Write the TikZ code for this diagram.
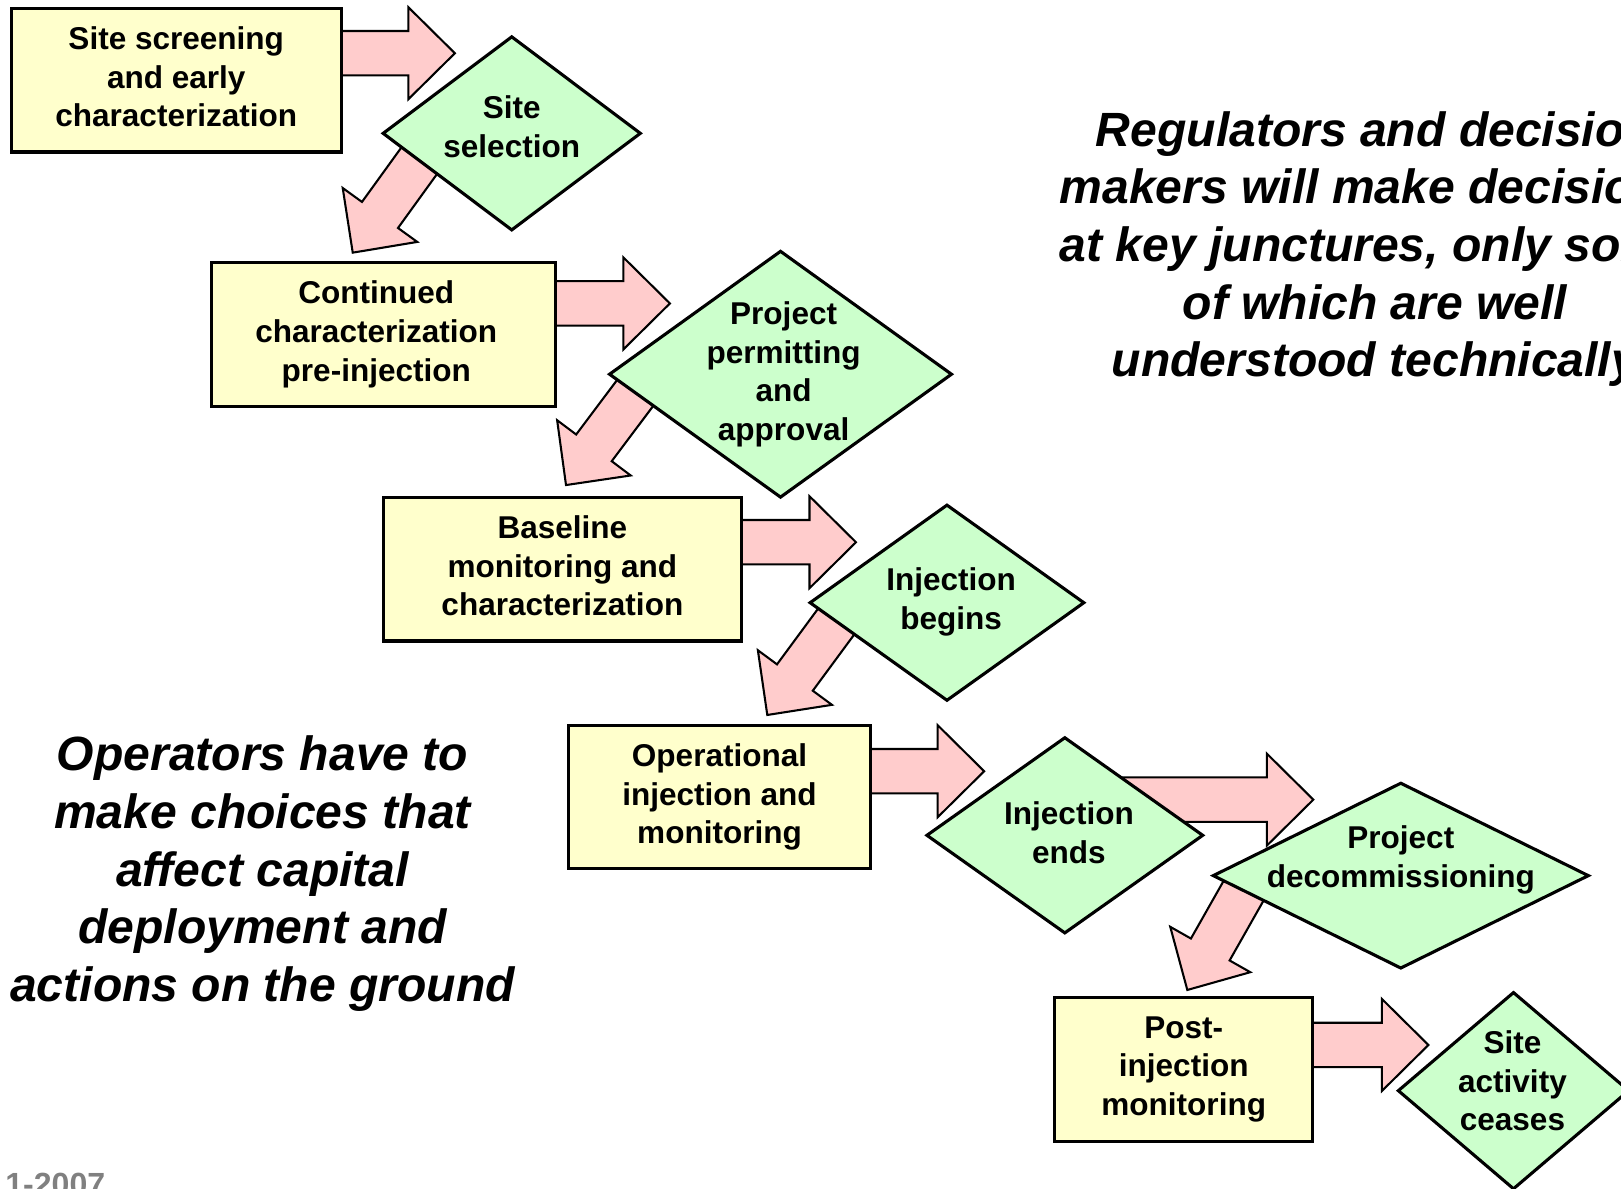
\documentclass[tikz,border=0pt]{standalone}
\usepackage{fontspec}
\setmainfont{Liberation Sans}
\usetikzlibrary{shapes.geometric,calc,backgrounds}
\definecolor{boxyellow}{HTML}{FFFFCC}
\definecolor{diagreen}{HTML}{CCFFCC}
\definecolor{arrpink}{HTML}{FFCCCC}
\definecolor{yeargray}{HTML}{808080}
\newcommand\blockarrow[2]{%
  \coordinate (hb) at ($(#2)!45pt!(#1)$);
  \draw[blockarr] ($(#1)!21.5pt!90:(#2)$) -- ($(hb)!21.5pt!90:(#2)$) -- ($(hb)!44.5pt!90:(#2)$) -- (#2)
    -- ($(hb)!44.5pt!-90:(#2)$) -- ($(hb)!21.5pt!-90:(#2)$) -- ($(#1)!21.5pt!-90:(#2)$) -- cycle;}
\begin{document}
\begin{tikzpicture}[x=1pt,y=-1pt,
  procbox/.style={draw=black,line width=3pt,fill=boxyellow,inner sep=0pt,align=center,
    font=\fontsize{30.5}{37.5}\selectfont\bfseries},
  decdia/.style={diamond,draw=black,line width=3pt,fill=diagreen,inner sep=0pt},
  diatext/.style={align=center,font=\fontsize{30.5}{37.5}\selectfont\bfseries,inner sep=0pt},
  bigtext/.style={align=center,font=\fontsize{46.5}{55.7}\selectfont\bfseries\itshape,inner sep=0pt},
  blockarr/.style={draw=black,line width=2pt,fill=arrpink,line join=miter}]
\useasboundingbox (0,0) rectangle (1568,1150);
\clip (0,0) rectangle (1568,1150);
% process boxes
\node[procbox,minimum width=319pt,minimum height=139pt] (b1) at (170.5,77.5) {Site screening\\and early\\characterization\vphantom{g}};
\node[procbox,minimum width=332pt,minimum height=139pt] (b2) at (371,323.5) {};
\node[diatext] (tb2) at (364,323.5) {Continued\\characterization\\pre-injection};
\node[procbox,minimum width=346pt,minimum height=139pt] (b3) at (544,550.5) {Baseline\\monitoring and\\characterization\vphantom{g}};
\node[procbox,minimum width=292pt,minimum height=138pt] (b4) at (696,771) {Operational\\injection and\\monitoring};
\node[procbox,minimum width=250pt,minimum height=139pt] (b5) at (1145,1034.5) {Post-\\injection\\monitoring};
% decision diamonds
\node[decdia,minimum width=250pt,minimum height=188pt] (d1) at (495,129) {};
\node[diatext] (t1) at (495,122.5) {Site\\selection};
\node[decdia,minimum width=332pt,minimum height=239pt] (d2) at (755,362) {};
\node[diatext] (t2) at (758,362) {Project\\permitting\\and\\approval};
\node[decdia,minimum width=266pt,minimum height=190pt] (d3) at (916,583) {};
\node[diatext] (t3) at (920,582.5) {Injection\\begins};
\node[decdia,minimum width=268pt,minimum height=190pt] (d4) at (1030,808) {};
\node[diatext] (t4) at (1034,805.5) {Injection\\ends};
\node[decdia,minimum width=364pt,minimum height=180pt] (d5) at (1355,847) {};
\node[diatext] (t5) at (1355,831.5) {Project\\decommissioning};
\node[decdia,minimum width=224pt,minimum height=191pt] (d6) at (1464,1055) {};
\node[diatext] (t6) at (1463,1045.5) {Site\\activity\\ceases};
% large captions
\node[bigtext] (ops) at (254,845) {Operators have to\\make choices that\\affect capital\\deployment and\\actions on the ground};
\node[bigtext] (regs) at (1330,241) {Regulators and decision\\makers will make decisions\\at key junctures, only some\\of which are well\\understood technically};
\node[anchor=base west,inner sep=0pt,font=\fontsize{31}{33}\selectfont\bfseries,text=yeargray] (yr) at (5,1156) {1-2007};
% block arrows behind
\begin{pgfonlayer}{background}
\coordinate (a1s) at (300,51.5);   \coordinate (a1t) at (440,51.5);
\coordinate (a2s) at (417.2,139.3); \coordinate (a2t) at (341.2,244.4);
\coordinate (a3s) at (510,293.5);  \coordinate (a3t) at (648,293.5);
\coordinate (a4s) at (625.5,365.3); \coordinate (a4t) at (547.5,469.2);
\coordinate (a5s) at (690,524.5);  \coordinate (a5t) at (828,524.5);
\coordinate (a6s) at (818.8,587.7); \coordinate (a6t) at (742.2,691.6);
\coordinate (a7s) at (815,746);    \coordinate (a7t) at (952,746);
\coordinate (a8s) at (1030,773.5); \coordinate (a8t) at (1270.4,773.5);
\coordinate (a9s) at (1204.9,858.1); \coordinate (a9t) at (1148.5,957.6);
\coordinate (a10s) at (1240,1010.8); \coordinate (a10t) at (1381.7,1010.8);
\blockarrow{a1s}{a1t}
\blockarrow{a2s}{a2t}
\blockarrow{a3s}{a3t}
\blockarrow{a4s}{a4t}
\blockarrow{a5s}{a5t}
\blockarrow{a6s}{a6t}
\blockarrow{a7s}{a7t}
\blockarrow{a8s}{a8t}
\blockarrow{a9s}{a9t}
\blockarrow{a10s}{a10t}
\end{pgfonlayer}
\end{tikzpicture}
\end{document}
